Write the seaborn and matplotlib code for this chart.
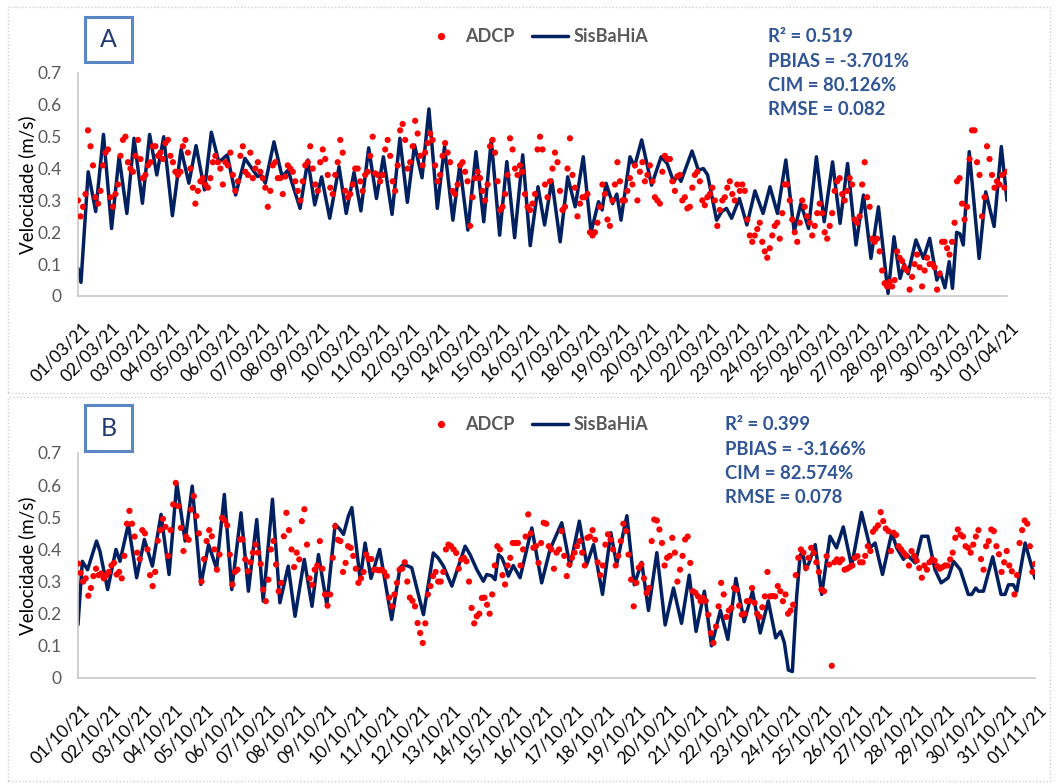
import numpy as np
import pandas as pd
import matplotlib
matplotlib.use("Agg")
import matplotlib.pyplot as plt
import matplotlib.dates as mdates
from matplotlib.patches import Rectangle
from matplotlib.lines import Line2D
from matplotlib.transforms import ScaledTranslation
import seaborn as sns

# ---------------------------------------------------------------- data
# Panel A: March 2021 ------------------------------------------------
start_a, end_a = "2021-03-01", "2021-04-01"
stats_a = ["R² = 0.519", "PBIAS = -3.701%", "CIM = 80.126%", "RMSE = 0.082"]

# ADCP measured speed (m/s), one reading every 2 h from 01/03 00:00
adcp_a = [
    0.30, 0.25, 0.28, 0.32, 0.52, 0.47, 0.41, 0.31, 0.29, 0.33, 0.41, 0.45,
    0.46, 0.31, 0.28, 0.32, 0.35, 0.44, 0.49, 0.50, 0.42, 0.40, 0.39, 0.44,
    0.49, 0.43, 0.37, 0.38, 0.41, 0.42, 0.47, 0.47, 0.44, 0.45, 0.43, 0.48,
    0.49, 0.44, 0.42, 0.39, 0.38, 0.39, 0.47, 0.49, 0.45, 0.40, 0.34, 0.29,
    0.33, 0.36, 0.37, 0.35, 0.34, 0.37, 0.42, 0.44, 0.42, 0.40, 0.35,
    0.42, 0.41, 0.45, 0.38, 0.33, 0.36, 0.44, 0.47, 0.39, 0.38, 0.45, 0.37,
    0.40, 0.42, 0.39, 0.37, 0.34, 0.28, 0.33, 0.41, 0.42, 0.37, 0.37, 0.32,
    0.375, 0.41, 0.40, 0.39, 0.36, 0.33, 0.30, 0.36, 0.41, 0.42, 0.47, 0.40,
    0.35, 0.33, 0.42, 0.46, 0.43, 0.38, 0.34, 0.32, 0.38, 0.42, 0.49, 0.45,
    0.33, 0.31, 0.32, 0.35, 0.40, 0.40, 0.36, 0.33, 0.38, 0.39, 0.44, 0.50,
    0.385, 0.38, 0.36, 0.38, 0.46, 0.49, 0.44, 0.36, 0.33, 0.41, 0.52,
    0.54, 0.49, 0.40, 0.42, 0.47, 0.55, 0.51, 0.44, 0.41, 0.45, 0.48, 0.51,
    0.49, 0.41, 0.36, 0.38, 0.44, 0.48, 0.45, 0.42, 0.33, 0.32, 0.35, 0.41,
    0.42, 0.39, 0.36, 0.22, 0.31, 0.37, 0.39, 0.37, 0.33, 0.30, 0.35, 0.47,
    0.49, 0.45, 0.36, 0.27, 0.28, 0.32, 0.38, 0.495, 0.46, 0.40, 0.38,
    0.41, 0.39, 0.32, 0.28, 0.27, 0.29,
    0.32, 0.46, 0.50, 0.46, 0.35, 0.31, 0.36, 0.40, 0.45,
    0.42, 0.33, 0.27, 0.28, 0.40, 0.495, 0.38, 0.34, 0.25, 0.29, 0.31, 0.31,
    0.32, 0.20, 0.19, 0.20, 0.23, 0.28, 0.35, 0.32, 0.24, 0.22, 0.30, 0.35,
    0.42, 0.36, 0.30, 0.30, 0.33, 0.37, 0.35, 0.41, 0.30, 0.39, 0.42, 0.36,
    0.38, 0.41, 0.36, 0.31, 0.30, 0.29, 0.39, 0.44, 0.43, 0.43, 0.36, 0.33,
    0.375, 0.38, 0.30, 0.31, 0.275, 0.28, 0.34, 0.38, 0.39, 0.36, 0.30, 0.285,
    0.31, 0.32, 0.34, 0.30, 0.22, 0.27, 0.30, 0.31, 0.34, 0.36, 0.32, 0.30,
    0.35, 0.33, 0.35, 0.33, 0.24, 0.19, 0.17, 0.19, 0.21, 0.23, 0.17, 0.14,
    0.12, 0.15, 0.19, 0.22, 0.23, 0.18, 0.26, 0.35, 0.35, 0.30, 0.24, 0.20,
    0.17, 0.23, 0.30, 0.28, 0.25, 0.23, 0.19, 0.22, 0.26, 0.29, 0.26, 0.20,
    0.18, 0.22, 0.26, 0.33, 0.36, 0.37, 0.32, 0.30, 0.33, 0.37, 0.35, 0.24,
    0.23, 0.25, 0.35, 0.42, 0.31, 0.28, 0.18, 0.17, 0.18, 0.14, 0.08, 0.04,
    0.03, 0.045, 0.03, 0.05, 0.14, 0.12, 0.11, 0.09, 0.08, 0.02, 0.06, 0.10,
    0.13, 0.09, 0.03, 0.08, 0.12, 0.10, 0.10, 0.09, 0.02, 0.07, 0.17, 0.17,
    0.15, 0.13, 0.17, 0.23, 0.36, 0.37, 0.29, 0.24, 0.28, 0.43, 0.52, 0.52,
    0.42, 0.38, 0.25, 0.31, 0.47, 0.43, 0.38, 0.34, 0.36, 0.35, 0.38, 0.34,
    0.39,
]

# SisBaHiA model speed: turning points, time in days after 01/03 00:00
sis_a_day = [
    0.00, 0.10, 0.34, 0.59, 0.85, 1.12, 1.37, 1.63, 1.87, 2.15,
    2.39, 2.63, 2.86, 3.15, 3.44, 3.70, 3.94, 4.22, 4.45, 4.70,
    4.98, 5.26, 5.57, 5.99, 6.11, 6.25, 6.54, 6.81, 7.01, 7.41,
    7.67, 7.90, 8.13, 8.40, 8.71, 8.95, 9.21, 9.44, 9.70, 9.96,
    10.19, 10.48, 10.74, 10.99, 11.23, 11.48, 11.71, 11.99, 12.23, 12.51,
    12.74, 13.01, 13.28, 13.54, 13.79, 14.07, 14.31, 14.57, 14.84, 15.09,
    15.35, 15.57, 15.81, 16.09, 16.34, 16.59, 16.86, 17.12, 17.37, 17.49,
    17.62, 17.84, 17.98, 18.12, 18.42, 18.57, 18.81, 19.14, 19.46, 19.66,
    19.88, 20.00, 20.12, 20.49, 20.70, 20.87, 21.01, 21.31, 21.48, 21.64,
    21.81, 22.07, 22.32, 22.59, 22.86, 23.09, 23.34, 23.62, 23.90, 24.12,
    24.38, 24.64, 24.90, 25.18, 25.43, 25.68, 25.96, 26.21, 26.46, 26.71,
    27.03, 27.23, 27.43, 27.57, 27.70, 27.96, 28.21, 28.42, 28.66, 28.77,
    28.93, 29.07, 29.18, 29.32, 29.43, 29.54, 29.74, 30.07, 30.29, 30.57,
    30.81, 31.00,
]
sis_a_vel = [
    0.087, 0.043, 0.390, 0.265, 0.507, 0.212, 0.437, 0.259, 0.495, 0.291,
    0.507, 0.380, 0.500, 0.252, 0.461, 0.354, 0.472, 0.333, 0.514, 0.420,
    0.443, 0.317, 0.432, 0.375, 0.380, 0.354, 0.484, 0.375, 0.395, 0.275,
    0.427, 0.286, 0.374, 0.244, 0.406, 0.259, 0.388, 0.267, 0.465, 0.306,
    0.437, 0.256, 0.495, 0.294, 0.474, 0.371, 0.587, 0.275, 0.469, 0.238,
    0.411, 0.207, 0.453, 0.233, 0.490, 0.191, 0.422, 0.183, 0.443, 0.158,
    0.343, 0.223, 0.364, 0.170, 0.374, 0.280, 0.437, 0.200, 0.296, 0.270,
    0.354, 0.290, 0.320, 0.238, 0.437, 0.406, 0.490, 0.348, 0.437, 0.416,
    0.357, 0.380, 0.360, 0.455, 0.395, 0.400, 0.380, 0.238, 0.265, 0.275,
    0.244, 0.306, 0.223, 0.330, 0.259, 0.343, 0.259, 0.427, 0.202, 0.290,
    0.212, 0.437, 0.233, 0.421, 0.228, 0.416, 0.160, 0.317, 0.118, 0.280,
    0.008, 0.186, 0.055, 0.100, 0.070, 0.176, 0.118, 0.181, 0.050, 0.075,
    0.026, 0.108, 0.024, 0.200, 0.195, 0.160, 0.453, 0.118, 0.327, 0.218,
    0.469, 0.300,
]

# Panel B: October 2021 ----------------------------------------------
start_b, end_b = "2021-10-01", "2021-11-01"
stats_b = ["R² = 0.399", "PBIAS = -3.166%", "CIM = 82.574%", "RMSE = 0.078"]

adcp_b = [
    0.356, 0.327, 0.30, 0.31, 0.256, 0.28, 0.317, 0.34, 0.32, 0.325, 0.31, 0.32,
    0.33, 0.35, 0.358, 0.322, 0.33, 0.31, 0.38, 0.48, 0.52, 0.48, 0.44, 0.39,
    0.37, 0.46, 0.45, 0.40, 0.32, 0.286, 0.33, 0.427, 0.46, 0.495, 0.47, 0.38,
    0.46, 0.54, 0.607, 0.535, 0.467, 0.395, 0.44, 0.43, 0.524, 0.566, 0.504, 0.45,
    0.30, 0.37, 0.426, 0.46, 0.441, 0.40, 0.337, 0.384, 0.498, 0.49, 0.475, 0.384,
    0.291, 0.33, 0.337, 0.431, 0.431, 0.369, 0.332, 0.36, 0.39, 0.415, 0.39, 0.355,
    0.275, 0.239, 0.306, 0.40, 0.426, 0.353, 0.27, 0.296, 0.441, 0.514, 0.46, 0.40,
    0.345, 0.39, 0.369, 0.488, 0.525, 0.415, 0.31, 0.29, 0.337, 0.35, 0.426, 0.34,
    0.26, 0.225, 0.26, 0.374, 0.472, 0.43, 0.426, 0.33, 0.358, 0.41, 0.405, 0.38,
    0.34, 0.296, 0.31, 0.33, 0.384, 0.37, 0.37, 0.337, 0.337, 0.335, 0.337, 0.33,
    0.317, 0.25, 0.223, 0.26, 0.296, 0.337, 0.34, 0.36, 0.30, 0.25, 0.24, 0.223,
    0.171, 0.14, 0.109, 0.17, 0.26, 0.286, 0.317, 0.33, 0.30, 0.30, 0.33, 0.40,
    0.415, 0.41, 0.40, 0.389, 0.34, 0.369, 0.374, 0.363, 0.30, 0.218, 0.17, 0.192,
    0.20, 0.249, 0.25, 0.228, 0.20, 0.26, 0.35, 0.41, 0.40, 0.32, 0.291, 0.35,
    0.374, 0.42, 0.42, 0.42, 0.35, 0.40, 0.44, 0.509, 0.45, 0.405, 0.41, 0.358,
    0.42, 0.483, 0.48, 0.41, 0.40, 0.34, 0.39, 0.40, 0.457, 0.38, 0.317, 0.353,
    0.374, 0.39, 0.41, 0.426, 0.39, 0.35, 0.436, 0.44, 0.46, 0.43, 0.36, 0.32,
    0.35, 0.415, 0.447, 0.43, 0.40, 0.35, 0.38, 0.426, 0.48, 0.457, 0.384, 0.306,
    0.223, 0.296, 0.343, 0.353, 0.31, 0.265, 0.28, 0.426, 0.493, 0.49, 0.462, 0.42,
    0.35, 0.374, 0.38, 0.436, 0.39, 0.30, 0.337, 0.38, 0.431, 0.44, 0.358, 0.27,
    0.265, 0.254, 0.239, 0.249, 0.24, 0.197, 0.14, 0.109, 0.16, 0.223, 0.296, 0.26,
    0.19, 0.21, 0.218, 0.28, 0.275, 0.225, 0.197, 0.20, 0.239, 0.24, 0.28, 0.234,
    0.20, 0.19, 0.22, 0.254, 0.33, 0.254, 0.255, 0.254, 0.286, 0.27, 0.239, 0.26,
    0.20, 0.21, 0.228, 0.32, 0.374, 0.40, 0.39, 0.343, 0.374, 0.405, 0.389, 0.36,
    0.33, 0.275, 0.27, 0.379, 0.353, 0.038, 0.36, 0.369, 0.36, 0.369, 0.337, 0.34,
    0.345, 0.35, 0.374, 0.379, 0.36, 0.36, 0.38, 0.41, 0.395, 0.455, 0.465, 0.475,
    0.516, 0.488, 0.465, 0.457, 0.395, 0.452, 0.445, 0.41, 0.40, 0.389, 0.38, 0.35,
    0.395, 0.38, 0.365, 0.342, 0.312, 0.35, 0.337, 0.36, 0.369, 0.365, 0.348, 0.34,
    0.345, 0.35, 0.35, 0.369, 0.39, 0.436, 0.462, 0.446, 0.44, 0.41, 0.405, 0.39,
    0.415, 0.44, 0.46, 0.37, 0.337, 0.41, 0.426, 0.462, 0.457, 0.41, 0.385, 0.33,
    0.36, 0.395, 0.35, 0.332, 0.26, 0.32, 0.42, 0.46, 0.49, 0.48, 0.41, 0.33,
    0.355,
]

sis_b_day = [
    0.00, 0.14, 0.31, 0.60, 0.71, 0.96, 1.23, 1.36, 1.63, 1.90,
    2.15, 2.41, 2.69, 2.95, 3.20, 3.47, 3.70, 3.98, 4.23, 4.49,
    4.74, 4.98, 5.28, 5.52, 5.79, 6.00, 6.30, 6.54, 6.81, 7.03,
    7.33, 7.58, 7.79, 8.06, 8.33, 8.49, 8.60, 8.76, 8.87, 9.14,
    9.30, 9.49, 9.77, 10.16, 10.43, 10.54, 10.70, 10.81, 11.19, 11.51,
    11.67, 11.84, 12.11, 12.54, 12.70, 12.92, 13.13, 13.24, 13.40, 13.51,
    13.62, 13.73, 13.84, 13.94, 14.10, 14.32, 14.70, 15.02, 15.29, 15.67,
    15.94, 16.24, 16.48, 16.70, 16.99, 17.26, 17.45, 17.78, 18.02, 18.26,
    18.48, 18.75, 19.02, 19.29, 19.55, 19.80, 20.02, 20.29, 20.52, 20.81,
    21.05, 21.31, 21.58, 21.85, 22.10, 22.36, 22.60, 22.76, 22.88, 23.01,
    23.14, 23.28, 23.39, 23.47, 23.57, 23.68, 23.88, 24.09, 24.36, 24.57,
    24.79, 25.06, 25.38, 25.66, 25.82, 26.06, 26.36, 26.52, 26.74, 26.85,
    26.95, 27.12, 27.33, 27.53, 27.76, 27.96, 28.19, 28.36, 28.58, 28.84,
    28.95, 29.08, 29.17, 29.33, 29.63, 29.90, 30.03, 30.14, 30.30, 30.41,
    30.68, 31.00,
]
sis_b_vel = [
    0.166, 0.363, 0.337, 0.426, 0.395, 0.275, 0.400, 0.363, 0.478, 0.312,
    0.431, 0.348, 0.509, 0.322, 0.607, 0.426, 0.597, 0.291, 0.415, 0.340,
    0.571, 0.275, 0.514, 0.270, 0.493, 0.239, 0.556, 0.234, 0.348, 0.192,
    0.369, 0.223, 0.384, 0.228, 0.478, 0.462, 0.447, 0.504, 0.530, 0.306,
    0.420, 0.310, 0.400, 0.182, 0.343, 0.353, 0.348, 0.343, 0.197, 0.389,
    0.373, 0.348, 0.286, 0.410, 0.384, 0.337, 0.301, 0.322, 0.318, 0.306,
    0.384, 0.374, 0.348, 0.317, 0.350, 0.312, 0.467, 0.296, 0.400, 0.483,
    0.348, 0.488, 0.353, 0.415, 0.260, 0.452, 0.353, 0.505, 0.290, 0.360,
    0.210, 0.390, 0.165, 0.280, 0.170, 0.320, 0.145, 0.270, 0.100, 0.210,
    0.120, 0.310, 0.175, 0.270, 0.140, 0.240, 0.125, 0.145, 0.110, 0.025,
    0.020, 0.254, 0.380, 0.395, 0.337, 0.358, 0.415, 0.260, 0.441, 0.405,
    0.470, 0.348, 0.515, 0.405, 0.420, 0.322, 0.452, 0.405, 0.369, 0.384,
    0.374, 0.358, 0.441, 0.441, 0.337, 0.296, 0.312, 0.363, 0.337, 0.260,
    0.260, 0.280, 0.270, 0.270, 0.377, 0.260, 0.260, 0.290, 0.290, 0.270,
    0.420, 0.310,
]

# ---------------------------------------------------------------- style
sns.set_style("white")
plt.rcParams["font.family"] = ["Lato", "DejaVu Sans"]

W, H = 1057, 784
RED = "#FF0000"
NAVY = "#002060"
GREY_TXT = "#595959"
STAT_BLUE = "#2F5597"
AXIS_GREY = "#C8C8C8"

fig = plt.figure(figsize=(W / 100, H / 100), dpi=100)


def px_rect(x0, y0, x1, y1):
    """Figure-fraction rectangle from pixel corners (origin top-left)."""
    return [x0 / W, 1 - y1 / H, (x1 - x0) / W, (y1 - y0) / H]


def draw_panel(rect, start, end, adcp, sis_day, sis_vel):
    ax = fig.add_axes(rect)
    t0 = pd.Timestamp(start)
    adcp_df = pd.DataFrame({
        "time": pd.date_range(t0, periods=len(adcp), freq="2h"),
        "vel": adcp,
    })
    sis_df = pd.DataFrame({
        "time": t0 + pd.to_timedelta(np.asarray(sis_day), unit="D"),
        "vel": sis_vel,
    })
    sns.lineplot(data=sis_df, x="time", y="vel", ax=ax, color=NAVY,
                 linewidth=2.5, estimator=None, sort=False, errorbar=None,
                 zorder=2, solid_joinstyle="round")
    sns.scatterplot(data=adcp_df, x="time", y="vel", ax=ax, color=RED,
                    s=20, edgecolor="none", linewidth=0, zorder=3)

    ax.set_xlim(pd.Timestamp(start), pd.Timestamp(end))
    ax.set_ylim(0, 0.7)
    ax.set_xticks(pd.date_range(start, end, freq="D"))
    ax.xaxis.set_major_formatter(mdates.DateFormatter("%d/%m/%y"))
    ax.set_yticks(np.round(np.arange(0, 0.71, 0.1), 1))
    ax.set_yticklabels(["0"] + [f"{v:.1f}" for v in np.arange(0.1, 0.71, 0.1)])
    ax.tick_params(axis="x", length=0, pad=17, labelsize=12.5, labelcolor="black")
    ax.tick_params(axis="y", length=0, pad=12, labelsize=12.5, labelcolor=GREY_TXT)
    shift = ScaledTranslation(4 / 100, 0, fig.dpi_scale_trans)
    for lab in ax.get_xticklabels():
        lab.set_rotation(45)
        lab.set_ha("right")
        lab.set_va("top")
        lab.set_rotation_mode("anchor")
        lab.set_transform(lab.get_transform() + shift)
    ax.set_xlabel("")
    ax.set_ylabel("Velocidade (m/s)", fontsize=13.5, color="black", labelpad=1)
    for side in ("top", "right"):
        ax.spines[side].set_visible(False)
    for side in ("left", "bottom"):
        ax.spines[side].set_color(AXIS_GREY)
        ax.spines[side].set_linewidth(1.2)
    ax.grid(False)
    return ax


def panel_frame(y0, y1):
    fig.add_artist(Rectangle((8 / W, 1 - y1 / H), (1050 - 8) / W, (y1 - y0) / H,
                             transform=fig.transFigure, fill=False,
                             linestyle=(0, (1, 1.5)), edgecolor="#D0D0D0",
                             linewidth=1))


def letter_box(letter, y0, y1):
    x0, x1 = 85, 132
    fig.add_artist(Rectangle((x0 / W, 1 - y1 / H), (x1 - x0) / W, (y1 - y0) / H,
                             transform=fig.transFigure, fill=False,
                             edgecolor="#5B87C5", linewidth=2.2))
    fig.text((x0 + x1) / 2 / W, 1 - (y0 + y1) / 2 / H, letter, fontsize=18,
             color="#1F3B73", ha="center", va="center")


def legend_at(y):
    handles = [
        Line2D([], [], marker="o", linestyle="none", color=RED, markersize=4.2),
        Line2D([], [], color=NAVY, linewidth=2.5),
    ]
    leg = fig.legend(handles, ["ADCP", "SisBaHiA"], loc="center",
                     bbox_to_anchor=(536 / W, 1 - y / H), ncol=2, frameon=False,
                     prop={"weight": "bold", "size": 13}, handlelength=2.0,
                     handletextpad=0.3, columnspacing=1.0, borderpad=0)
    for txt in leg.get_texts():
        txt.set_color(GREY_TXT)


def stats_block(lines, x, y_first, step=24.3):
    for i, s in enumerate(lines):
        fig.text(x / W, 1 - (y_first + i * step) / H, s, fontsize=13.3,
                 fontweight="bold", color=STAT_BLUE, ha="left", va="center")


# ---------------------------------------------------------------- panels
panel_frame(7, 393)
panel_frame(397, 781)

draw_panel(px_rect(78, 73, 1007, 296), start_a, end_a, adcp_a, sis_a_day, sis_a_vel)
draw_panel(px_rect(78, 453, 1035, 678), start_b, end_b, adcp_b, sis_b_day, sis_b_vel)

letter_box("A", 17, 62)
letter_box("B", 405, 451)

legend_at(37)
legend_at(425)

stats_block(stats_a, 768, 37)
stats_block(stats_b, 725, 425)

fig.savefig("out.png", dpi=100, facecolor="white")
